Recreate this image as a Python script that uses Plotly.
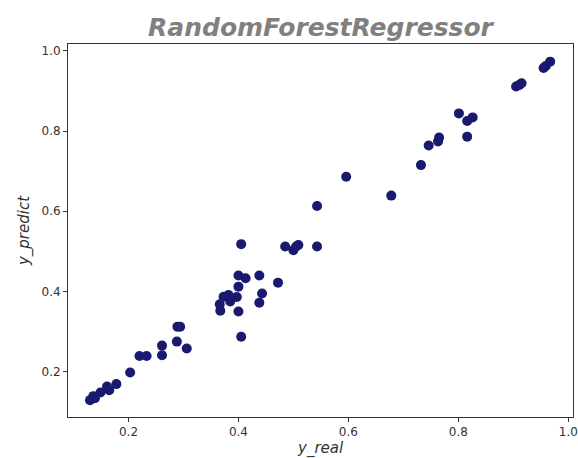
import plotly.graph_objects as go

y_real = [0.130, 0.139, 0.136, 0.149, 0.161, 0.165, 0.178, 0.203, 0.220, 0.233,
          0.261, 0.261, 0.288, 0.289, 0.294, 0.306,
          0.366, 0.367, 0.373, 0.382, 0.385, 0.397, 0.400, 0.400, 0.400, 0.405,
          0.413, 0.438, 0.438, 0.443, 0.472,
          0.405, 0.485, 0.500, 0.505, 0.509, 0.543, 0.543, 0.596,
          0.678, 0.732, 0.746, 0.763, 0.765, 0.801, 0.816, 0.816, 0.826,
          0.905, 0.911, 0.915, 0.955, 0.959, 0.967]
y_predict = [0.129, 0.134, 0.139, 0.148, 0.163, 0.154, 0.169, 0.198, 0.239, 0.239,
             0.265, 0.241, 0.275, 0.312, 0.312, 0.258,
             0.368, 0.352, 0.387, 0.391, 0.375, 0.386, 0.350, 0.412, 0.440, 0.287,
             0.433, 0.440, 0.372, 0.395, 0.422,
             0.518, 0.512, 0.503, 0.512, 0.516, 0.512, 0.613, 0.686,
             0.639, 0.715, 0.764, 0.774, 0.784, 0.844, 0.786, 0.825, 0.834,
             0.911, 0.915, 0.919, 0.957, 0.962, 0.973]

x_ticks = [0.2, 0.4, 0.6, 0.8, 1.0]
y_ticks = [0.2, 0.4, 0.6, 0.8, 1.0]

fig = go.Figure()
fig.add_trace(go.Scatter(
    x=y_real, y=y_predict, mode="markers",
    marker=dict(color="#191970", size=10, line=dict(width=0)),
    showlegend=False,
))

axis_common = dict(
    showline=True, linecolor="#333333", linewidth=1, mirror=True,
    ticks="outside", ticklen=4, tickcolor="#333333", tickwidth=1,
    showgrid=False, zeroline=False, automargin=False,
    tickfont=dict(family="DejaVu Sans", size=12, color="#333333"),
    tickformat=".1f",
)

fig.update_layout(
    width=578, height=458,
    margin=dict(l=68, r=5, t=44, b=41),
    paper_bgcolor="white", plot_bgcolor="white",
    title=dict(
        text="<b><i>RandomForestRegressor</i></b>",
        font=dict(family="DejaVu Sans", size=25, color="#808080"),
        x=0.5545, xanchor="center", y=0.94, yanchor="middle",
    ),
    xaxis=dict(range=[0.090, 1.0085], tickvals=x_ticks, **axis_common),
    yaxis=dict(range=[0.087, 1.017], tickvals=y_ticks,
               title=dict(text="<i>y_predict</i>", standoff=8,
                          font=dict(family="DejaVu Sans", size=15, color="#333333")),
               **axis_common),
    annotations=[dict(
        text="<i>y_real</i>", xref="paper", yref="paper", x=0.5, y=0,
        xanchor="center", yanchor="top", yshift=-20, showarrow=False,
        font=dict(family="DejaVu Sans", size=15, color="#333333"),
    )],
)

fig.write_html("out.html")
